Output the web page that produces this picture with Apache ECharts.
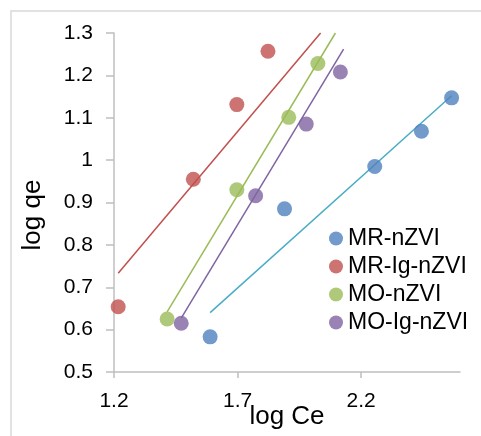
<!DOCTYPE html>
<html lang="en">
<head>
	<meta charset="UTF-8">
	<title>log qe vs log Ce</title>
	<script src="https://cdn.jsdelivr.net/npm/echarts@6/dist/echarts.min.js"></script>
	<style>
		html, body { margin: 0; padding: 0; background: #fff; }
	</style>
</head>
<body>
    <div id="main" style="width: 481px;height:436px;"></div>
    <script type="text/javascript">
		// points: [log Ce, log qe]
		var mrNzvi = [[1.589, 0.583], [1.890, 0.885], [2.255, 0.985], [2.444, 1.068], [2.566, 1.147]];
		var mrIgNzvi = [[1.217, 0.654], [1.521, 0.955], [1.697, 1.131], [1.823, 1.257]];
		var moNzvi = [[1.415, 0.625], [1.697, 0.930], [1.907, 1.101], [2.025, 1.228]];
		var moIgNzvi = [[1.472, 0.615], [1.773, 0.916], [1.978, 1.085], [2.116, 1.208]];

		// linear trend lines, start and end
		var mrNzviFit = [[1.589, 0.640], [2.566, 1.152]];
		var mrIgNzviFit = [[1.217, 0.733], [2.036, 1.300]];
		var moNzviFit = [[1.415, 0.642], [2.096, 1.300]];
		var moIgNzviFit = [[1.472, 0.627], [2.129, 1.262]];

		var xTicks = [1.2, 1.7, 2.2];

		var font = 'Liberation Sans';
		var axisGray = '#BFBFBF';

		var myChart = echarts.init(document.getElementById('main'));

		function dots(name, data, color) {
			return {
				name: name,
				type: 'scatter',
				data: data,
				symbol: 'circle',
				symbolSize: 15,
				itemStyle: { color: color },
				z: 3
			};
		}

		function fit(data, color) {
			return {
				type: 'line',
				data: data,
				symbol: 'none',
				silent: true,
				lineStyle: { color: color, width: 1.5 },
				z: 2
			};
		}

		option = {
		    animation: false,
		    backgroundColor: '#fff',
		    grid: { left: 114, right: 21, top: 33, bottom: 64, outerBoundsMode: 'none', containLabel: false },
		    graphic: [
		        {
		            type: 'polyline',
		            shape: { points: [[11, 436], [11, 11], [481, 11]] },
		            style: { stroke: '#D9D9D9', lineWidth: 1.5, fill: null }
		        },
		        {
		            type: 'text',
		            x: 33, y: 215,
		            rotation: Math.PI / 2,
		            style: {
		                text: 'log qe',
		                font: '26px "Liberation Sans"',
		                fill: '#000',
		                align: 'center',
		                verticalAlign: 'middle'
		            }
		        }
		    ],
		    legend: {
		        orient: 'vertical',
		        left: 329,
		        top: 227,
		        padding: 0,
		        itemWidth: 14,
		        itemHeight: 14,
		        itemGap: 5,
		        icon: 'circle',
		        data: ['MR-nZVI', 'MR-Ig-nZVI', 'MO-nZVI', 'MO-Ig-nZVI'],
		        textStyle: { fontFamily: font, fontSize: 23, lineHeight: 23, color: '#000' }
		    },
		    xAxis: {
		        type: 'value',
		        min: 1.2,
		        max: 2.6,
		        name: 'log Ce',
		        nameLocation: 'middle',
		        nameGap: 32,
		        nameMoveOverlap: false,
		        nameTextStyle: { fontFamily: font, fontSize: 26, color: '#000' },
		        axisLine: { lineStyle: { color: axisGray, width: 1.5 } },
		        axisTick: { show: true, length: 6, customValues: xTicks, lineStyle: { color: axisGray, width: 1.5 } },
		        axisLabel: { customValues: xTicks, margin: 19, fontFamily: font, fontSize: 21, color: '#000' },
		        splitLine: { show: false }
		    },
		    yAxis: {
		        type: 'value',
		        min: 0.5,
		        max: 1.3,
		        interval: 0.1,
		        axisLine: { show: true, lineStyle: { color: axisGray, width: 1.5 } },
		        axisTick: { show: true, length: 8, lineStyle: { color: axisGray, width: 1.5 } },
		        axisLabel: { margin: 21, fontFamily: font, fontSize: 21, color: '#000' },
		        splitLine: { show: false }
		    },
		    series: [
		        fit(mrNzviFit, '#4BACC6'),
		        fit(mrIgNzviFit, '#C0504D'),
		        fit(moNzviFit, '#9BBB59'),
		        fit(moIgNzviFit, '#8064A2'),
		        dots('MR-nZVI', mrNzvi, '#4F81BD'),
		        dots('MR-Ig-nZVI', mrIgNzvi, '#C0504D'),
		        dots('MO-nZVI', moNzvi, '#9BBB59'),
		        dots('MO-Ig-nZVI', moIgNzvi, '#8064A2')
		    ]
		};
		myChart.setOption(option);
    </script>
</body>
</html>
